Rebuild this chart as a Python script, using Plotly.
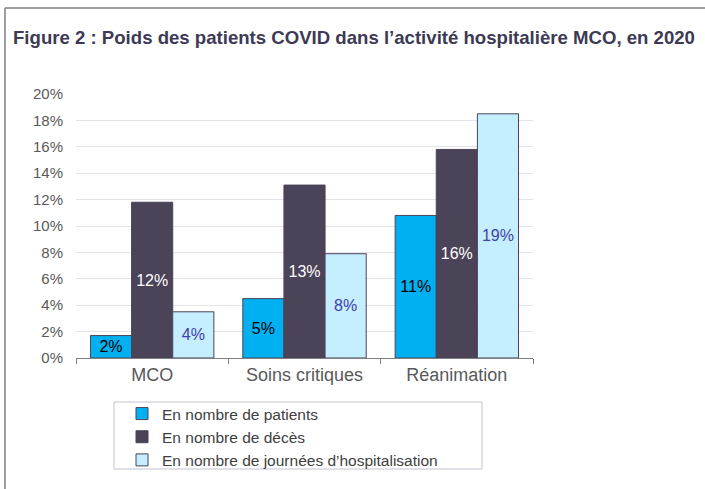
import plotly.graph_objects as go

# data (percent)
categories = ["MCO", "Soins critiques", "Réanimation"]
series_names = [
    "En nombre de patients",
    "En nombre de décès",
    "En nombre de journées d’hospitalisation",
]
patients = [1.7, 4.5, 10.8]
deces = [11.8, 13.1, 15.8]
journees = [3.5, 7.9, 18.5]
y_ticks = [0, 2, 4, 6, 8, 10, 12, 14, 16, 18, 20]

W, H = 705, 489
L, R, T, B = 76, 172, 94, 131
PW, PH = W - L - R, H - T - B


def px_x(x):
    return (x - L) / PW


def px_y(y):
    return (H - B - y) / PH


fig = go.Figure()

styles = [
    (patients, "#00B0F0", "#000000"),
    (deces, "#4B4358", "#FFFFFF"),
    (journees, "#C5EEFF", "#4040A8"),
]
for name, (vals, color, tcolor) in zip(series_names, styles):
    fig.add_trace(go.Bar(
        x=categories,
        y=vals,
        name=name,
        marker=dict(color=color, line=dict(color="#4B4358", width=1)),
        text=[f"{int(v + 0.5)}%" for v in vals],
        textposition="inside",
        insidetextanchor="middle",
        constraintext="none",
        textangle=0,
        textfont=dict(family="Liberation Sans, Arial", size=16, color=tcolor),
    ))

# frame around the figure (top and left edges)
fig.add_shape(type="line", xref="paper", yref="paper",
              x0=px_x(5), x1=px_x(W + 5), y0=px_y(8), y1=px_y(8),
              line=dict(color="#7F7F7F", width=1.5))
fig.add_shape(type="line", xref="paper", yref="paper",
              x0=px_x(5), x1=px_x(5), y0=px_y(8), y1=px_y(H + 5),
              line=dict(color="#7F7F7F", width=1.5))
# legend box
fig.add_shape(type="rect", xref="paper", yref="paper",
              x0=px_x(114), x1=px_x(482), y0=px_y(402), y1=px_y(469),
              line=dict(color="#C4C2D4", width=1))

fig.update_layout(
    width=W, height=H,
    margin=dict(l=L, r=R, t=T, b=B, autoexpand=False),
    plot_bgcolor="white",
    paper_bgcolor="white",
    font=dict(family="Liberation Sans, Arial", color="#595959"),
    title=dict(
        text="<b>Figure 2 : Poids des patients COVID dans l’activité hospitalière MCO, en 2020</b>",
        x=13 / W, xanchor="left",
        y=1 - 37 / H, yanchor="middle",
        font=dict(size=18.6, color="#3C3A55"),
    ),
    barmode="group",
    bargap=0.19,
    bargroupgap=0,
    showlegend=True,
    legend=dict(
        x=px_x(122), xanchor="left",
        y=px_y(397), yanchor="top",
        bgcolor="rgba(0,0,0,0)",
        borderwidth=0,
        font=dict(size=15.5, color="#404040"),
        itemwidth=30,
        tracegroupgap=0,
    ),
    xaxis=dict(
        showline=True, linecolor="#7F7F7F", linewidth=1,
        ticks="outside", tickson="boundaries", ticklen=5, tickcolor="#7F7F7F",
        tickfont=dict(size=18, color="#595959"),
        showgrid=False,
    ),
    yaxis=dict(
        range=[0, 20],
        tickvals=y_ticks,
        ticktext=[f"{v}%" for v in y_ticks],
        tickfont=dict(size=15, color="#595959"),
        showgrid=True, gridcolor="#E3E3EC", gridwidth=1,
        zeroline=False, showline=False,
        ticklabelstandoff=12,
    ),
)

# the page body has a default 8px margin; drop it so the figure sits at (0, 0)
fig.write_html(
    "out.html",
    config={"displayModeBar": False},
    post_script="document.body.style.margin='0';",
)
